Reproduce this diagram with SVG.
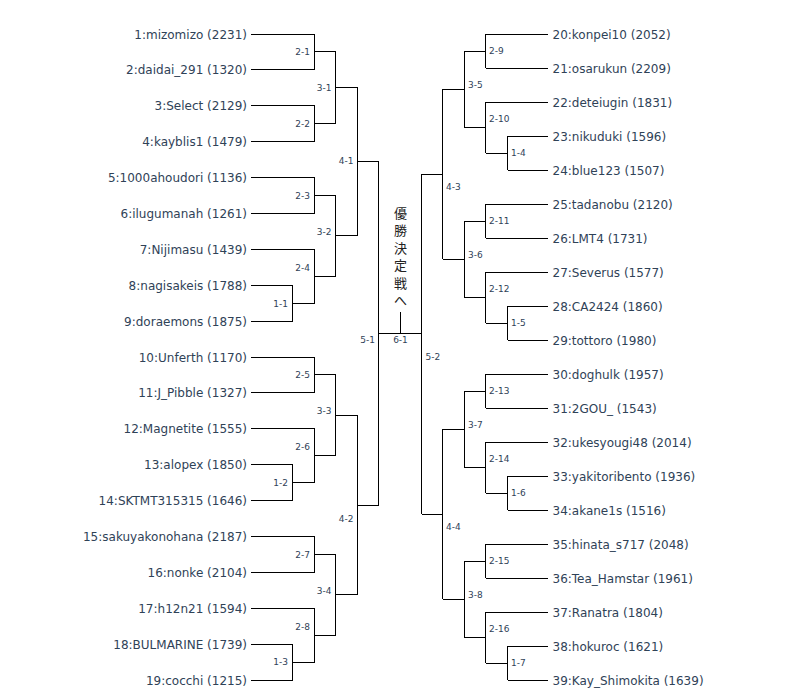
<svg xmlns="http://www.w3.org/2000/svg" width="800" height="699" viewBox="0 0 800 699">
<style>
.bg{fill:#fff}
.name{font-family:"DejaVu Sans",Verdana,sans-serif;font-size:12px;fill:#2f4257}
.nl{text-anchor:end}
.mlab{font-family:"DejaVu Sans",Verdana,sans-serif;font-size:9px;fill:#2f4257}
.ml{text-anchor:end}
.c{fill:none;stroke:#000;stroke-width:1}
.final{font-family:"Noto Sans CJK JP","Noto Sans CJK SC",sans-serif;font-size:13px;fill:#222;text-anchor:middle}
</style>
<rect class="bg" x="0" y="0" width="800" height="699"/>
<g id="connectors" class="c" shape-rendering="crispEdges">
<path d="M250.5 34 H314.5 M250.5 69.9 H314.5 M250.5 105.8 H314.5 M250.5 141.7 H314.5 M250.5 177.6 H314.5 M250.5 213.4 H314.5 M250.5 249.3 H314.5 M250.5 285.2 H292.5 M250.5 321.1 H292.5 M250.5 357 H314.5 M250.5 392.9 H314.5 M250.5 428.8 H314.5 M250.5 464.7 H292.5 M250.5 500.6 H292.5 M250.5 536.4 H314.5 M250.5 572.3 H314.5 M250.5 608.2 H314.5 M250.5 644.1 H292.5 M250.5 680 H292.5"/>
<path d="M314.5 34 V69.9 M314.5 51.9 H335.5"/>
<path d="M314.5 105.8 V141.7 M314.5 123.7 H335.5"/>
<path d="M335.5 51.9 V123.7 M335.5 87.8 H357.5"/>
<path d="M314.5 177.6 V213.4 M314.5 195.5 H335.5"/>
<path d="M292.5 285.2 V321.1 M292.5 303.2 H314.5"/>
<path d="M314.5 249.3 V303.2 M314.5 276.3 H335.5"/>
<path d="M335.5 195.5 V276.3 M335.5 235.9 H357.5"/>
<path d="M357.5 87.8 V235.9 M357.5 161.8 H378.5"/>
<path d="M314.5 357 V392.9 M314.5 374.9 H335.5"/>
<path d="M292.5 464.7 V500.6 M292.5 482.6 H314.5"/>
<path d="M314.5 428.8 V482.6 M314.5 455.7 H335.5"/>
<path d="M335.5 374.9 V455.7 M335.5 415.3 H357.5"/>
<path d="M314.5 536.4 V572.3 M314.5 554.4 H335.5"/>
<path d="M292.5 644.1 V680 M292.5 662.1 H314.5"/>
<path d="M314.5 608.2 V662.1 M314.5 635.2 H335.5"/>
<path d="M335.5 554.4 V635.2 M335.5 594.8 H357.5"/>
<path d="M357.5 415.3 V594.8 M357.5 505 H378.5"/>
<path d="M378.5 161.8 V505 M378.5 333.4 H421.5"/>
<path d="M400.5 312 V333.4"/>
<path d="M485.5 34 H547.5 M485.5 68 H547.5 M485.5 102 H547.5 M507.5 136 H547.5 M507.5 170 H547.5 M485.5 204 H547.5 M485.5 238 H547.5 M485.5 272 H547.5 M507.5 306 H547.5 M507.5 340 H547.5 M485.5 374 H547.5 M485.5 408 H547.5 M485.5 442 H547.5 M507.5 476 H547.5 M507.5 510 H547.5 M485.5 544 H547.5 M485.5 578 H547.5 M485.5 612 H547.5 M507.5 646 H547.5 M507.5 680 H547.5"/>
<path d="M485.5 34 V68 M485.5 51 H464.5"/>
<path d="M507.5 136 V170 M507.5 153 H485.5"/>
<path d="M485.5 102 V153 M485.5 127.5 H464.5"/>
<path d="M464.5 51 V127.5 M464.5 89.25 H442.5"/>
<path d="M485.5 204 V238 M485.5 221 H464.5"/>
<path d="M507.5 306 V340 M507.5 323 H485.5"/>
<path d="M485.5 272 V323 M485.5 297.5 H464.5"/>
<path d="M464.5 221 V297.5 M464.5 259.25 H442.5"/>
<path d="M442.5 89.25 V259.25 M442.5 174.25 H421.5"/>
<path d="M485.5 374 V408 M485.5 391 H464.5"/>
<path d="M507.5 476 V510 M507.5 493 H485.5"/>
<path d="M485.5 442 V493 M485.5 467.5 H464.5"/>
<path d="M464.5 391 V467.5 M464.5 429.25 H442.5"/>
<path d="M485.5 544 V578 M485.5 561 H464.5"/>
<path d="M507.5 646 V680 M507.5 663 H485.5"/>
<path d="M485.5 612 V663 M485.5 637.5 H464.5"/>
<path d="M464.5 561 V637.5 M464.5 599.25 H442.5"/>
<path d="M442.5 429.25 V599.25 M442.5 514.25 H421.5"/>
<path d="M421.5 174.25 V514.25"/>
</g>
<g id="p1"><text class="name nl" x="247" y="38.5">1:mizomizo (2231)</text></g>
<g id="p2"><text class="name nl" x="247" y="74.4">2:daidai_291 (1320)</text></g>
<g id="p3"><text class="name nl" x="247" y="110.3">3:Select (2129)</text></g>
<g id="p4"><text class="name nl" x="247" y="146.2">4:kayblis1 (1479)</text></g>
<g id="p5"><text class="name nl" x="247" y="182.1">5:1000ahoudori (1136)</text></g>
<g id="p6"><text class="name nl" x="247" y="217.9">6:ilugumanah (1261)</text></g>
<g id="p7"><text class="name nl" x="247" y="253.8">7:Nijimasu (1439)</text></g>
<g id="p8"><text class="name nl" x="247" y="289.7">8:nagisakeis (1788)</text></g>
<g id="p9"><text class="name nl" x="247" y="325.6">9:doraemons (1875)</text></g>
<g id="p10"><text class="name nl" x="247" y="361.5">10:Unferth (1170)</text></g>
<g id="p11"><text class="name nl" x="247" y="397.4">11:J_Pibble (1327)</text></g>
<g id="p12"><text class="name nl" x="247" y="433.3">12:Magnetite (1555)</text></g>
<g id="p13"><text class="name nl" x="247" y="469.2">13:alopex (1850)</text></g>
<g id="p14"><text class="name nl" x="247" y="505.1">14:SKTMT315315 (1646)</text></g>
<g id="p15"><text class="name nl" x="247" y="540.9">15:sakuyakonohana (2187)</text></g>
<g id="p16"><text class="name nl" x="247" y="576.8">16:nonke (2104)</text></g>
<g id="p17"><text class="name nl" x="247" y="612.7">17:h12n21 (1594)</text></g>
<g id="p18"><text class="name nl" x="247" y="648.6">18:BULMARINE (1739)</text></g>
<g id="p19"><text class="name nl" x="247" y="684.5">19:cocchi (1215)</text></g>
<g id="p20"><text class="name" x="552.5" y="38.5">20:konpei10 (2052)</text></g>
<g id="p21"><text class="name" x="552.5" y="72.5">21:osarukun (2209)</text></g>
<g id="p22"><text class="name" x="552.5" y="106.5">22:deteiugin (1831)</text></g>
<g id="p23"><text class="name" x="552.5" y="140.5">23:nikuduki (1596)</text></g>
<g id="p24"><text class="name" x="552.5" y="174.5">24:blue123 (1507)</text></g>
<g id="p25"><text class="name" x="552.5" y="208.5">25:tadanobu (2120)</text></g>
<g id="p26"><text class="name" x="552.5" y="242.5">26:LMT4 (1731)</text></g>
<g id="p27"><text class="name" x="552.5" y="276.5">27:Severus (1577)</text></g>
<g id="p28"><text class="name" x="552.5" y="310.5">28:CA2424 (1860)</text></g>
<g id="p29"><text class="name" x="552.5" y="344.5">29:tottoro (1980)</text></g>
<g id="p30"><text class="name" x="552.5" y="378.5">30:doghulk (1957)</text></g>
<g id="p31"><text class="name" x="552.5" y="412.5">31:2GOU_ (1543)</text></g>
<g id="p32"><text class="name" x="552.5" y="446.5">32:ukesyougi48 (2014)</text></g>
<g id="p33"><text class="name" x="552.5" y="480.5">33:yakitoribento (1936)</text></g>
<g id="p34"><text class="name" x="552.5" y="514.5">34:akane1s (1516)</text></g>
<g id="p35"><text class="name" x="552.5" y="548.5">35:hinata_s717 (2048)</text></g>
<g id="p36"><text class="name" x="552.5" y="582.5">36:Tea_Hamstar (1961)</text></g>
<g id="p37"><text class="name" x="552.5" y="616.5">37:Ranatra (1804)</text></g>
<g id="p38"><text class="name" x="552.5" y="650.5">38:hokuroc (1621)</text></g>
<g id="p39"><text class="name" x="552.5" y="684.5">39:Kay_Shimokita (1639)</text></g>
<g id="m2-1"><text class="mlab ml" x="310" y="55.2">2-1</text></g>
<g id="m2-2"><text class="mlab ml" x="310" y="127">2-2</text></g>
<g id="m3-1"><text class="mlab ml" x="331.5" y="91.1">3-1</text></g>
<g id="m2-3"><text class="mlab ml" x="310" y="198.8">2-3</text></g>
<g id="m1-1"><text class="mlab ml" x="288" y="306.5">1-1</text></g>
<g id="m2-4"><text class="mlab ml" x="310" y="270.5">2-4</text></g>
<g id="m3-2"><text class="mlab ml" x="331.5" y="234.7">3-2</text></g>
<g id="m4-1"><text class="mlab ml" x="353.5" y="163.5">4-1</text></g>
<g id="m2-5"><text class="mlab ml" x="310" y="378.2">2-5</text></g>
<g id="m1-2"><text class="mlab ml" x="288" y="485.9">1-2</text></g>
<g id="m2-6"><text class="mlab ml" x="310" y="450">2-6</text></g>
<g id="m3-3"><text class="mlab ml" x="331.5" y="414.1">3-3</text></g>
<g id="m2-7"><text class="mlab ml" x="310" y="557.7">2-7</text></g>
<g id="m1-3"><text class="mlab ml" x="288" y="665.4">1-3</text></g>
<g id="m2-8"><text class="mlab ml" x="310" y="629.5">2-8</text></g>
<g id="m3-4"><text class="mlab ml" x="331.5" y="593.6">3-4</text></g>
<g id="m4-2"><text class="mlab ml" x="353.5" y="521.8">4-2</text></g>
<g id="m5-1"><text class="mlab ml" x="375" y="342.8">5-1</text></g>
<g id="m2-9"><text class="mlab" x="489" y="54.3">2-9</text></g>
<g id="m1-4"><text class="mlab" x="511" y="156.3">1-4</text></g>
<g id="m2-10"><text class="mlab" x="489" y="122.3">2-10</text></g>
<g id="m3-5"><text class="mlab" x="468" y="88.3">3-5</text></g>
<g id="m2-11"><text class="mlab" x="489" y="224.3">2-11</text></g>
<g id="m1-5"><text class="mlab" x="511" y="326.3">1-5</text></g>
<g id="m2-12"><text class="mlab" x="489" y="292.3">2-12</text></g>
<g id="m3-6"><text class="mlab" x="468" y="258.3">3-6</text></g>
<g id="m4-3"><text class="mlab" x="446" y="190.3">4-3</text></g>
<g id="m2-13"><text class="mlab" x="489" y="394.3">2-13</text></g>
<g id="m1-6"><text class="mlab" x="511" y="496.3">1-6</text></g>
<g id="m2-14"><text class="mlab" x="489" y="462.3">2-14</text></g>
<g id="m3-7"><text class="mlab" x="468" y="428.3">3-7</text></g>
<g id="m2-15"><text class="mlab" x="489" y="564.3">2-15</text></g>
<g id="m1-7"><text class="mlab" x="511" y="666.3">1-7</text></g>
<g id="m2-16"><text class="mlab" x="489" y="632.3">2-16</text></g>
<g id="m3-8"><text class="mlab" x="468" y="598.3">3-8</text></g>
<g id="m4-4"><text class="mlab" x="446" y="530.3">4-4</text></g>
<g id="m5-2"><text class="mlab" x="425.5" y="360.3">5-2</text></g>
<g id="m6-1"><text class="mlab" x="400.5" y="343.3" text-anchor="middle">6-1</text></g>
<g id="final"><text class="final"><tspan x="400.5" y="217.5">優</tspan><tspan x="400.5" y="235">勝</tspan><tspan x="400.5" y="252.5">決</tspan><tspan x="400.5" y="270">定</tspan><tspan x="400.5" y="287.5">戦</tspan><tspan x="400.5" y="305">へ</tspan></text></g>
</svg>
